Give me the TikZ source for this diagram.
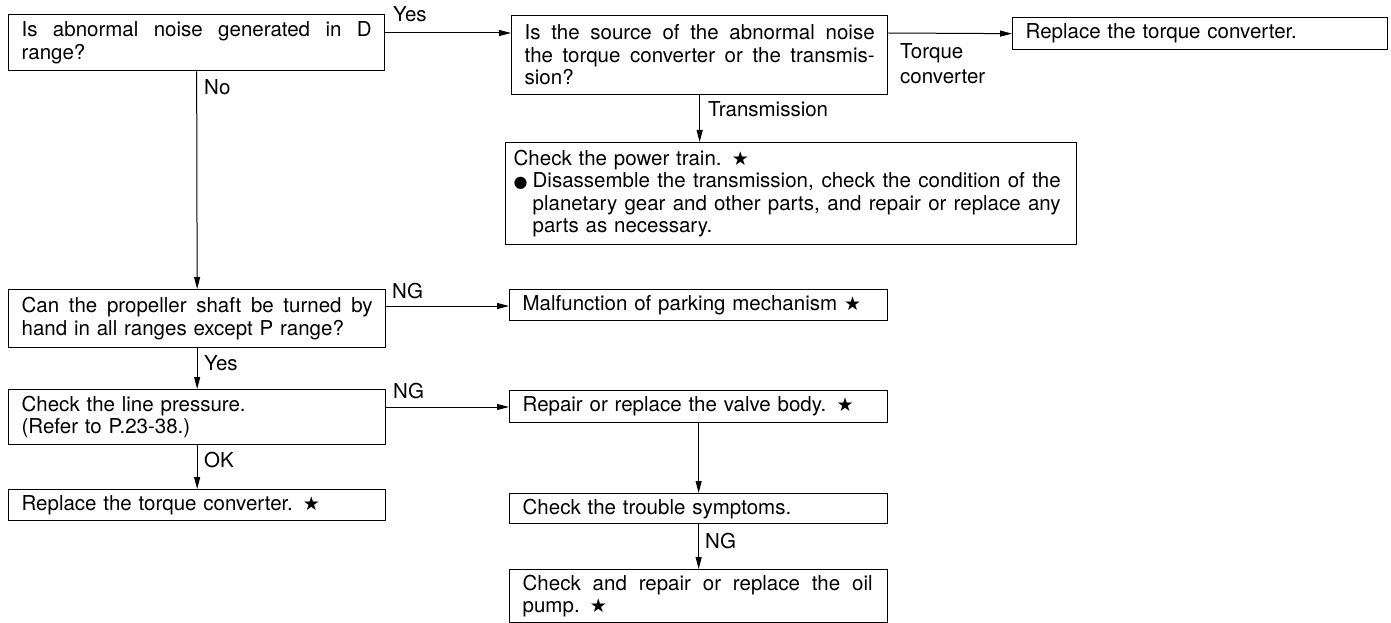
\documentclass[tikz,border=0pt]{standalone}
\usepackage{fontspec}
\setmainfont{TeX Gyre Heros}
\newfontfamily\symfont{DejaVu Sans}
\usetikzlibrary{arrows.meta}
\newcommand{\stsym}{{\symfont\fontsize{19}{19}\selectfont ★}}
\newcommand{\bulsym}{{\symfont\fontsize{16}{16}\selectfont ●}}
\newcommand{\jl}[2]{\leavevmode{\spaceskip=0.28em plus 1fil\relax\hbox to #1{#2}}}
\tikzset{
  txt/.style={font=\fontsize{20.5}{22.5}\selectfont},
  box/.style={txt, draw, line width=1.3pt, anchor=north west, inner ysep=0pt,
    inner xsep=13pt, align=left},
  arr/.style={line width=1pt, -{Triangle[length=12pt,width=6pt]}},
  lbl/.style={txt, inner sep=0pt, anchor=base west},
}
\begin{document}
\begin{tikzpicture}[x=1pt,y=-1pt]
\useasboundingbox (0,0) rectangle (1391,623);
% boxes
\node[box, text width=350pt, minimum height=56pt] (q1) at (8,14)
  {\jl{350pt}{Is abnormal noise generated in D}\\range?};
\node[box, text width=350pt, minimum height=79pt] (q2) at (511,15)
  {\jl{350pt}{Is the source of the abnormal noise}\\\jl{350pt}{the torque converter or the transmis-}\\sion?};
\node[box, text width=349pt, minimum height=32pt] (r1) at (1012,17)
  {Replace the torque converter.};
\node[box, text width=555pt, minimum height=102pt, inner xsep=8pt] (pt) at (505,142)
  {Check the power train. \stsym\\
   \makebox[19pt][l]{\bulsym}\jl{528pt}{Disassemble the transmission, check the condition of the}\\
   \hspace*{19pt}\jl{528pt}{planetary gear and other parts, and repair or replace any}\\
   \hspace*{19pt}parts as necessary.};
\node[box, text width=351pt, minimum height=58pt] (q3) at (8,289)
  {\jl{351pt}{Can the propeller shaft be turned by}\\hand in all ranges except P range?};
\node[box, text width=352pt, minimum height=31pt] (mf) at (509,289)
  {Malfunction of parking mechanism \stsym};
\node[box, text width=351pt, minimum height=55pt] (lp) at (8,389)
  {Check the line pressure.\\(Refer to P.23-38.)};
\node[box, text width=352pt, minimum height=32pt] (rv) at (509,390)
  {Repair or replace the valve body. \stsym};
\node[box, text width=351pt, minimum height=31pt] (rt) at (8,489)
  {Replace the torque converter. \stsym};
\node[box, text width=352pt, minimum height=30pt] (ts) at (509,493)
  {Check the trouble symptoms.};
\node[box, text width=352pt, minimum height=53pt] (op) at (509,569)
  {\jl{350pt}{Check and repair or replace the oil}\\pump. \stsym};
% connectors
\draw[arr] ([yshift=-19pt]q1.north east) -- ([yshift=-18pt]q2.north west);
\draw[arr] ([yshift=-18pt]q2.north east) -- (r1.west);
\draw[arr] (q2.south) -- (q2.south |- pt.north);
\draw[arr] (q1.south) -- (q3.north);
\draw[arr] ([yshift=-17pt]q3.north east) -- ([yshift=-17pt]q3.north east -| mf.west);
\draw[arr] (q3.south) -- (lp.north);
\draw[arr] ([yshift=-18pt]lp.north east) -- ([yshift=-18pt]lp.north east -| rv.west);
\draw[arr] (lp.south) -- (rt.north);
\draw[arr] (rv.south) -- (ts.north);
\draw[arr] (ts.south) -- (op.north);
% labels
\node[lbl] (lyes1) at (393,22) {Yes};
\node[txt, inner sep=0pt, anchor=north west, align=left, font=\fontsize{20.5}{25}\selectfont] (ltc) at (900,43) {Torque\\converter};
\node[lbl] (lno) at (204,95) {No};
\node[lbl] (ltr) at (708,117) {Transmission};
\node[lbl] (lng1) at (392,298) {NG};
\node[lbl] (lyes2) at (204,370) {Yes};
\node[lbl] (lng2) at (393,398) {NG};
\node[lbl] (lok) at (204,467) {OK};
\node[lbl] (lng3) at (705,548) {NG};
\end{tikzpicture}
\end{document}
